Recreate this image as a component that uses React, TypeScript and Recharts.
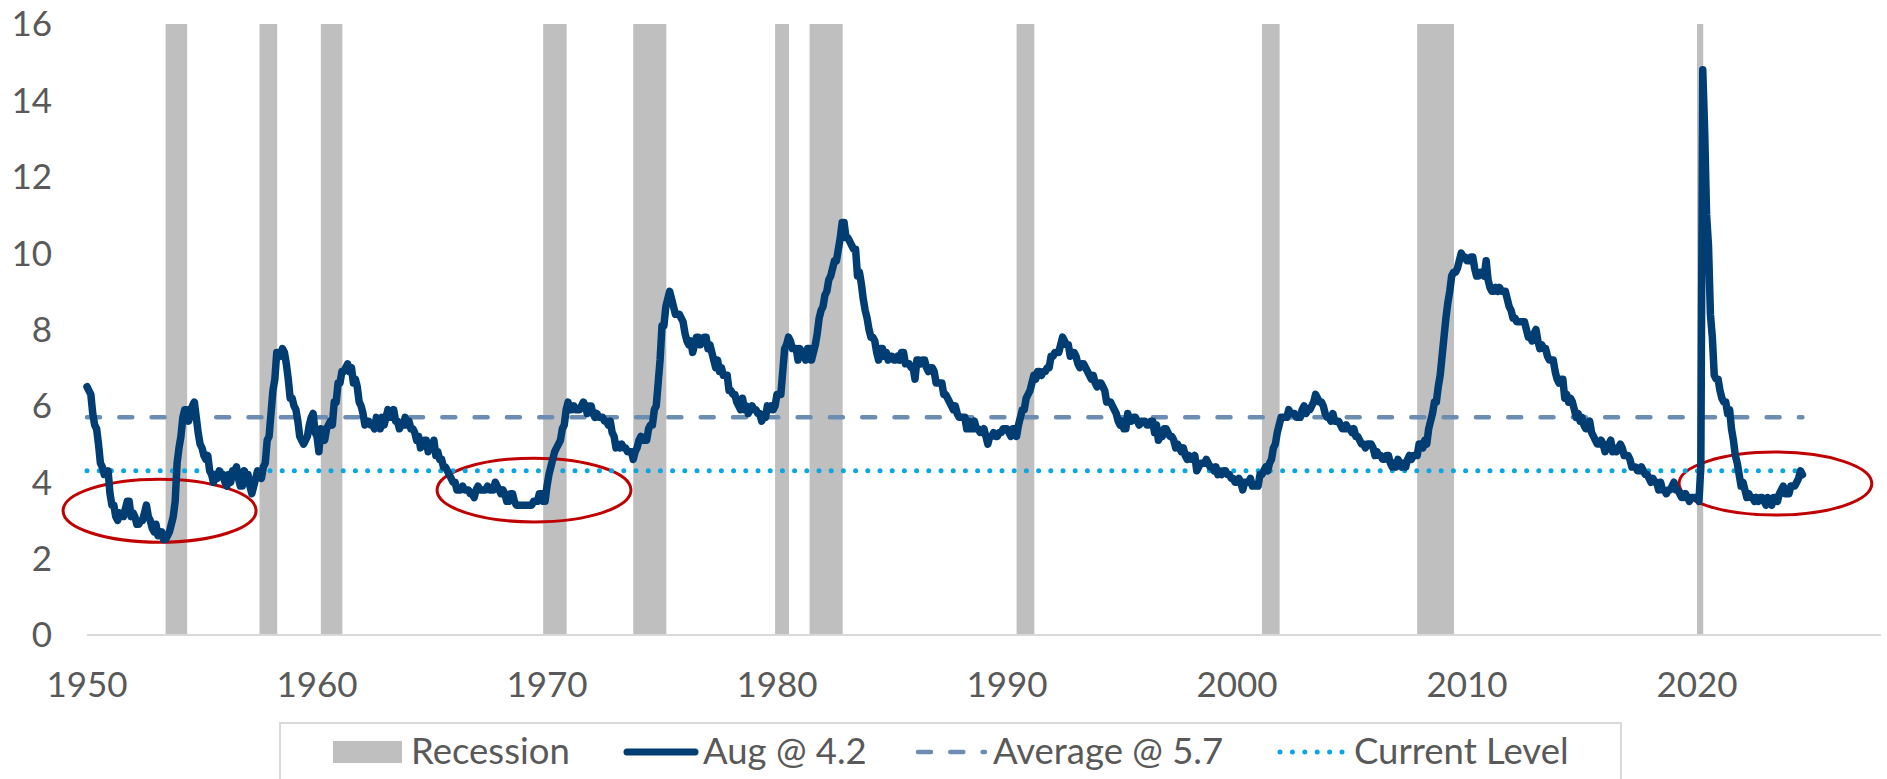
import React from 'react';
import { LineChart, Line, XAxis, YAxis, ReferenceArea } from 'recharts';

// Monthly unemployment rate, Jan 1950 – Aug 2024 (%)
const START_YEAR = 1950;
const unemploymentRate: number[] = [
  // 1950
  6.5, 6.4, 6.3, 5.8, 5.5, 5.4, 5.0, 4.5, 4.4, 4.2, 4.2, 4.3,
  // 1951
  3.7, 3.4, 3.4, 3.1, 3.0, 3.2, 3.1, 3.1, 3.3, 3.5, 3.5, 3.1,
  // 1952
  3.2, 3.1, 2.9, 2.9, 3.0, 3.0, 3.2, 3.4, 3.1, 3.0, 2.8, 2.7,
  // 1953
  2.9, 2.6, 2.6, 2.7, 2.5, 2.5, 2.6, 2.7, 2.9, 3.1, 3.5, 4.5,
  // 1954
  4.9, 5.2, 5.7, 5.9, 5.9, 5.6, 5.8, 6.0, 6.1, 5.7, 5.3, 5.0,
  // 1955
  4.9, 4.7, 4.6, 4.7, 4.3, 4.2, 4.0, 4.2, 4.1, 4.3, 4.2, 4.2,
  // 1956
  4.0, 3.9, 4.2, 4.0, 4.3, 4.3, 4.4, 4.1, 3.9, 3.9, 4.3, 4.2,
  // 1957
  4.2, 3.9, 3.7, 3.9, 4.1, 4.3, 4.2, 4.1, 4.4, 4.5, 5.1, 5.2,
  // 1958
  5.8, 6.4, 6.7, 7.4, 7.4, 7.3, 7.5, 7.4, 7.1, 6.7, 6.2, 6.2,
  // 1959
  6.0, 5.9, 5.6, 5.2, 5.1, 5.0, 5.1, 5.2, 5.5, 5.7, 5.8, 5.3,
  // 1960
  5.2, 4.8, 5.4, 5.2, 5.1, 5.4, 5.5, 5.6, 5.5, 6.1, 6.1, 6.6,
  // 1961
  6.6, 6.9, 6.9, 7.0, 7.1, 6.9, 7.0, 6.6, 6.7, 6.5, 6.1, 6.0,
  // 1962
  5.8, 5.5, 5.6, 5.6, 5.5, 5.5, 5.4, 5.7, 5.6, 5.4, 5.7, 5.5,
  // 1963
  5.7, 5.9, 5.7, 5.7, 5.9, 5.6, 5.6, 5.4, 5.5, 5.5, 5.7, 5.5,
  // 1964
  5.6, 5.4, 5.4, 5.3, 5.1, 5.2, 4.9, 5.0, 5.1, 5.1, 4.8, 5.0,
  // 1965
  4.9, 5.1, 4.7, 4.8, 4.6, 4.6, 4.4, 4.4, 4.3, 4.2, 4.1, 4.0,
  // 1966
  4.0, 3.8, 3.8, 3.8, 3.9, 3.8, 3.8, 3.8, 3.7, 3.7, 3.6, 3.8,
  // 1967
  3.9, 3.8, 3.8, 3.8, 3.8, 3.9, 3.8, 3.8, 3.8, 4.0, 3.9, 3.8,
  // 1968
  3.7, 3.8, 3.7, 3.5, 3.5, 3.7, 3.7, 3.5, 3.4, 3.4, 3.4, 3.4,
  // 1969
  3.4, 3.4, 3.4, 3.4, 3.4, 3.5, 3.5, 3.5, 3.7, 3.7, 3.5, 3.5,
  // 1970
  3.9, 4.2, 4.4, 4.6, 4.8, 4.9, 5.0, 5.1, 5.4, 5.5, 5.9, 6.1,
  // 1971
  5.9, 5.9, 6.0, 5.9, 5.9, 5.9, 6.0, 6.1, 6.0, 5.8, 6.0, 6.0,
  // 1972
  5.8, 5.7, 5.8, 5.7, 5.7, 5.7, 5.6, 5.6, 5.5, 5.6, 5.3, 5.2,
  // 1973
  4.9, 5.0, 4.9, 5.0, 4.9, 4.9, 4.8, 4.8, 4.8, 4.6, 4.8, 4.9,
  // 1974
  5.1, 5.2, 5.1, 5.1, 5.1, 5.4, 5.5, 5.5, 5.9, 6.0, 6.6, 7.2,
  // 1975
  8.1, 8.1, 8.6, 8.8, 9.0, 8.8, 8.6, 8.4, 8.4, 8.4, 8.3, 8.2,
  // 1976
  7.9, 7.7, 7.6, 7.7, 7.4, 7.6, 7.8, 7.8, 7.6, 7.7, 7.8, 7.8,
  // 1977
  7.5, 7.6, 7.4, 7.2, 7.0, 7.2, 6.9, 7.0, 6.8, 6.8, 6.8, 6.4,
  // 1978
  6.4, 6.3, 6.3, 6.1, 6.0, 5.9, 6.2, 5.9, 6.0, 5.8, 5.9, 6.0,
  // 1979
  5.9, 5.9, 5.8, 5.8, 5.6, 5.7, 5.7, 6.0, 5.9, 6.0, 5.9, 6.0,
  // 1980
  6.3, 6.3, 6.3, 6.9, 7.5, 7.6, 7.8, 7.7, 7.5, 7.5, 7.5, 7.2,
  // 1981
  7.5, 7.4, 7.4, 7.2, 7.5, 7.5, 7.2, 7.4, 7.6, 7.9, 8.3, 8.5,
  // 1982
  8.6, 8.9, 9.0, 9.3, 9.4, 9.6, 9.8, 9.8, 10.1, 10.4, 10.8, 10.8,
  // 1983
  10.4, 10.4, 10.3, 10.2, 10.1, 10.1, 9.4, 9.5, 9.2, 8.8, 8.5, 8.3,
  // 1984
  8.0, 7.8, 7.8, 7.7, 7.4, 7.2, 7.5, 7.5, 7.3, 7.4, 7.2, 7.3,
  // 1985
  7.3, 7.2, 7.2, 7.3, 7.2, 7.4, 7.4, 7.1, 7.1, 7.1, 7.0, 7.0,
  // 1986
  6.7, 7.2, 7.2, 7.1, 7.2, 7.2, 7.0, 6.9, 7.0, 7.0, 6.9, 6.6,
  // 1987
  6.6, 6.6, 6.6, 6.3, 6.3, 6.2, 6.1, 6.0, 5.9, 6.0, 5.8, 5.7,
  // 1988
  5.7, 5.7, 5.7, 5.4, 5.6, 5.4, 5.4, 5.6, 5.4, 5.4, 5.3, 5.3,
  // 1989
  5.4, 5.2, 5.0, 5.2, 5.2, 5.3, 5.2, 5.2, 5.3, 5.3, 5.4, 5.4,
  // 1990
  5.4, 5.3, 5.2, 5.4, 5.4, 5.2, 5.5, 5.7, 5.9, 5.9, 6.2, 6.3,
  // 1991
  6.4, 6.6, 6.8, 6.7, 6.9, 6.9, 6.8, 6.9, 6.9, 7.0, 7.0, 7.3,
  // 1992
  7.3, 7.4, 7.4, 7.4, 7.6, 7.8, 7.7, 7.6, 7.6, 7.3, 7.4, 7.4,
  // 1993
  7.3, 7.1, 7.0, 7.1, 7.1, 7.0, 6.9, 6.8, 6.7, 6.8, 6.6, 6.5,
  // 1994
  6.6, 6.6, 6.5, 6.4, 6.1, 6.1, 6.1, 6.0, 5.9, 5.8, 5.6, 5.5,
  // 1995
  5.6, 5.4, 5.4, 5.8, 5.6, 5.6, 5.7, 5.7, 5.6, 5.5, 5.6, 5.6,
  // 1996
  5.6, 5.5, 5.5, 5.6, 5.6, 5.3, 5.5, 5.1, 5.2, 5.2, 5.4, 5.4,
  // 1997
  5.3, 5.2, 5.2, 5.1, 4.9, 5.0, 4.9, 4.8, 4.9, 4.7, 4.6, 4.7,
  // 1998
  4.6, 4.6, 4.7, 4.3, 4.4, 4.5, 4.5, 4.5, 4.6, 4.5, 4.4, 4.4,
  // 1999
  4.3, 4.4, 4.2, 4.3, 4.2, 4.3, 4.3, 4.2, 4.2, 4.1, 4.1, 4.0,
  // 2000
  4.0, 4.1, 4.0, 3.8, 4.0, 4.0, 4.0, 4.1, 3.9, 3.9, 3.9, 3.9,
  // 2001
  4.2, 4.2, 4.3, 4.4, 4.3, 4.5, 4.6, 4.9, 5.0, 5.3, 5.5, 5.7,
  // 2002
  5.7, 5.7, 5.7, 5.9, 5.8, 5.8, 5.8, 5.7, 5.7, 5.7, 5.9, 6.0,
  // 2003
  5.8, 5.9, 5.9, 6.0, 6.1, 6.3, 6.2, 6.1, 6.1, 6.0, 5.8, 5.7,
  // 2004
  5.7, 5.6, 5.8, 5.6, 5.6, 5.6, 5.5, 5.4, 5.4, 5.5, 5.4, 5.4,
  // 2005
  5.3, 5.4, 5.2, 5.2, 5.1, 5.0, 5.0, 4.9, 5.0, 5.0, 5.0, 4.9,
  // 2006
  4.7, 4.8, 4.7, 4.7, 4.6, 4.6, 4.7, 4.7, 4.5, 4.4, 4.5, 4.4,
  // 2007
  4.6, 4.5, 4.4, 4.5, 4.4, 4.6, 4.7, 4.6, 4.7, 4.7, 4.7, 5.0,
  // 2008
  5.0, 4.9, 5.1, 5.0, 5.4, 5.6, 5.8, 6.1, 6.1, 6.5, 6.8, 7.3,
  // 2009
  7.8, 8.3, 8.7, 9.0, 9.4, 9.5, 9.5, 9.6, 9.8, 10.0, 9.9, 9.9,
  // 2010
  9.8, 9.8, 9.9, 9.9, 9.6, 9.4, 9.4, 9.5, 9.5, 9.4, 9.8, 9.3,
  // 2011
  9.1, 9.0, 9.0, 9.1, 9.0, 9.1, 9.0, 9.0, 9.0, 8.8, 8.6, 8.5,
  // 2012
  8.3, 8.3, 8.2, 8.2, 8.2, 8.2, 8.2, 8.0, 7.8, 7.8, 7.7, 7.9,
  // 2013
  8.0, 7.7, 7.5, 7.6, 7.5, 7.5, 7.3, 7.2, 7.2, 7.2, 6.9, 6.7,
  // 2014
  6.6, 6.7, 6.7, 6.2, 6.3, 6.1, 6.2, 6.1, 5.9, 5.7, 5.8, 5.6,
  // 2015
  5.7, 5.5, 5.4, 5.4, 5.6, 5.3, 5.2, 5.1, 5.0, 5.0, 5.1, 5.0,
  // 2016
  4.8, 4.9, 5.0, 5.1, 4.8, 4.9, 4.8, 4.9, 5.0, 4.9, 4.7, 4.7,
  // 2017
  4.7, 4.6, 4.4, 4.4, 4.4, 4.3, 4.3, 4.4, 4.3, 4.2, 4.2, 4.1,
  // 2018
  4.0, 4.1, 4.0, 4.0, 3.8, 4.0, 3.8, 3.8, 3.7, 3.8, 3.8, 3.9,
  // 2019
  4.0, 3.8, 3.8, 3.7, 3.6, 3.6, 3.7, 3.6, 3.5, 3.6, 3.6, 3.6,
  // 2020
  3.6, 3.5, 4.4, 14.8, 13.2, 11.0, 10.2, 8.4, 7.8, 6.8, 6.7, 6.7,
  // 2021
  6.4, 6.2, 6.1, 6.1, 5.8, 5.9, 5.4, 5.1, 4.7, 4.5, 4.2, 3.9,
  // 2022
  4.0, 3.8, 3.6, 3.7, 3.6, 3.6, 3.5, 3.6, 3.5, 3.6, 3.6, 3.5,
  // 2023
  3.4, 3.6, 3.5, 3.4, 3.6, 3.6, 3.5, 3.7, 3.8, 3.9, 3.7, 3.7,
  // 2024
  3.7, 3.9, 3.9, 3.9, 4.0, 4.1, 4.3, 4.2,
];

const AVERAGE_LEVEL = 5.7;
const CURRENT_LEVEL = 4.3;

// Recessions: [peak year, peak month, trough year, trough month]
const recessions: [number, number, number, number][] = [
  [1953, 7, 1954, 5],
  [1957, 8, 1958, 4],
  [1960, 4, 1961, 2],
  [1969, 12, 1970, 11],
  [1973, 11, 1975, 3],
  [1980, 1, 1980, 7],
  [1981, 7, 1982, 11],
  [1990, 7, 1991, 3],
  [2001, 3, 2001, 11],
  [2007, 12, 2009, 6],
  [2020, 2, 2020, 4],
];

// Highlighted low-unemployment episodes (ellipses): [x1, x2, y1, y2]
const highlights: [number, number, number, number][] = [
  [1948.96, 1957.35, 2.43, 4.08],
  [1965.22, 1973.65, 2.96, 4.63],
  [2019.22, 2027.6, 3.14, 4.79],
];

const xTicks = [1950, 1960, 1970, 1980, 1990, 2000, 2010, 2020];
const yTicks = [0, 2, 4, 6, 8, 10, 12, 14, 16];

const legendLabels = ['Recession', 'Aug @ 4.2', 'Average @ 5.7', 'Current Level'];

const data = unemploymentRate.map((v, i) => ({
  x: START_YEAR + i / 12,
  rate: v,
  avg: AVERAGE_LEVEL,
  cur: CURRENT_LEVEL,
}));

const NAVY = '#003D73';
const STEEL = '#6B8DB2';
const SKY = '#0AA6E2';
const GREY = '#BFBFBF';
const TEXT = '#595959';
const FONT = 'Lato, "Open Sans", sans-serif';
const LEGEND_FS = 36.5;

const toDec = (y: number, m: number) => y + (m - 1) / 12;

const EllipseShape = (props: any) => {
  const { x, y, width, height } = props;
  return (
    <ellipse
      cx={x + width / 2}
      cy={y + height / 2}
      rx={Math.abs(width) / 2}
      ry={Math.abs(height) / 2}
      fill="none"
      stroke="#C00000"
      strokeWidth={3}
    />
  );
};

const Legend = () => (
  <svg
    width={1887}
    height={779}
    style={{ position: 'absolute', left: 0, top: 0, pointerEvents: 'none' }}
  >
    <rect x={280} y={723} width={1341} height={80} fill="none" stroke="#D9D9D9" strokeWidth={2} />
    <rect x={333} y={741} width={69} height={22} fill={GREY} />
    <text x={411} y={764} fontSize={LEGEND_FS} fill={TEXT} fontFamily={FONT}>{legendLabels[0]}</text>
    <line x1={627} y1={752} x2={695} y2={752} stroke={NAVY} strokeWidth={7} strokeLinecap="round" />
    <text x={703} y={764} fontSize={LEGEND_FS} fill={TEXT} fontFamily={FONT}>{legendLabels[1]}</text>
    <line x1={918} y1={752} x2={985} y2={752} stroke={STEEL} strokeWidth={4.5} strokeDasharray="13 19.3" strokeLinecap="round" />
    <text x={993} y={764} fontSize={LEGEND_FS} fill={TEXT} fontFamily={FONT}>{legendLabels[2]}</text>
    <line x1={1280} y1={752} x2={1342} y2={752} stroke={SKY} strokeWidth={5} strokeDasharray="0 12.4" strokeLinecap="round" />
    <text x={1354} y={764} fontSize={LEGEND_FS} fill={TEXT} fontFamily={FONT}>{legendLabels[3]}</text>
  </svg>
);

export default function App() {
  return (
    <div style={{ position: 'absolute', left: 0, top: 0, width: 1887, height: 779, background: '#fff', fontFamily: FONT }}>
      <LineChart
        width={1887}
        height={779}
        data={data}
        margin={{ top: 24, right: 6, left: 0, bottom: 84 }}
      >
        <XAxis
          dataKey="x"
          type="number"
          domain={[1950, 2028]}
          ticks={xTicks}
          tickLine={false}
          axisLine={{ stroke: '#D9D9D9', strokeWidth: 2 }}
          tickSize={0}
          tickMargin={37}
          height={60}
          tick={{ fill: TEXT, fontSize: 35, fontFamily: FONT }}
          interval={0}
        />
        <YAxis
          type="number"
          domain={[0, 16]}
          ticks={yTicks}
          tickLine={false}
          axisLine={false}
          tickSize={0}
          tickMargin={35}
          width={87}
          tick={{ fill: TEXT, fontSize: 35, fontFamily: FONT }}
          interval={0}
        />
        {recessions.map(([py, pm, ty, tm], i) => (
          <ReferenceArea
            key={`rec-${i}`}
            x1={toDec(py, pm) - 1 / 12}
            x2={toDec(ty, tm) + 1 / 48}
            y1={0}
            y2={16}
            fill={GREY}
            fillOpacity={1}
            stroke="none"
            ifOverflow="visible"
          />
        ))}
        <Line
          dataKey="avg"
          stroke={STEEL}
          strokeWidth={4.5}
          strokeDasharray="13 19.3"
          strokeLinecap="round"
          dot={false}
          activeDot={false}
          isAnimationActive={false}
          type="linear"
        />
        <Line
          dataKey="cur"
          stroke={SKY}
          strokeWidth={5}
          strokeDasharray="0 12.2"
          strokeLinecap="round"
          dot={false}
          activeDot={false}
          isAnimationActive={false}
          type="linear"
        />
        <Line
          dataKey="rate"
          stroke={NAVY}
          strokeWidth={7.5}
          strokeLinejoin="round"
          strokeLinecap="round"
          dot={false}
          activeDot={false}
          isAnimationActive={false}
          type="linear"
        />
        {highlights.map(([x1, x2, y1, y2], i) => (
          <ReferenceArea
            key={`hl-${i}`}
            x1={x1}
            x2={x2}
            y1={y1}
            y2={y2}
            ifOverflow="visible"
            shape={EllipseShape}
          />
        ))}
      </LineChart>
      <Legend />
    </div>
  );
}
